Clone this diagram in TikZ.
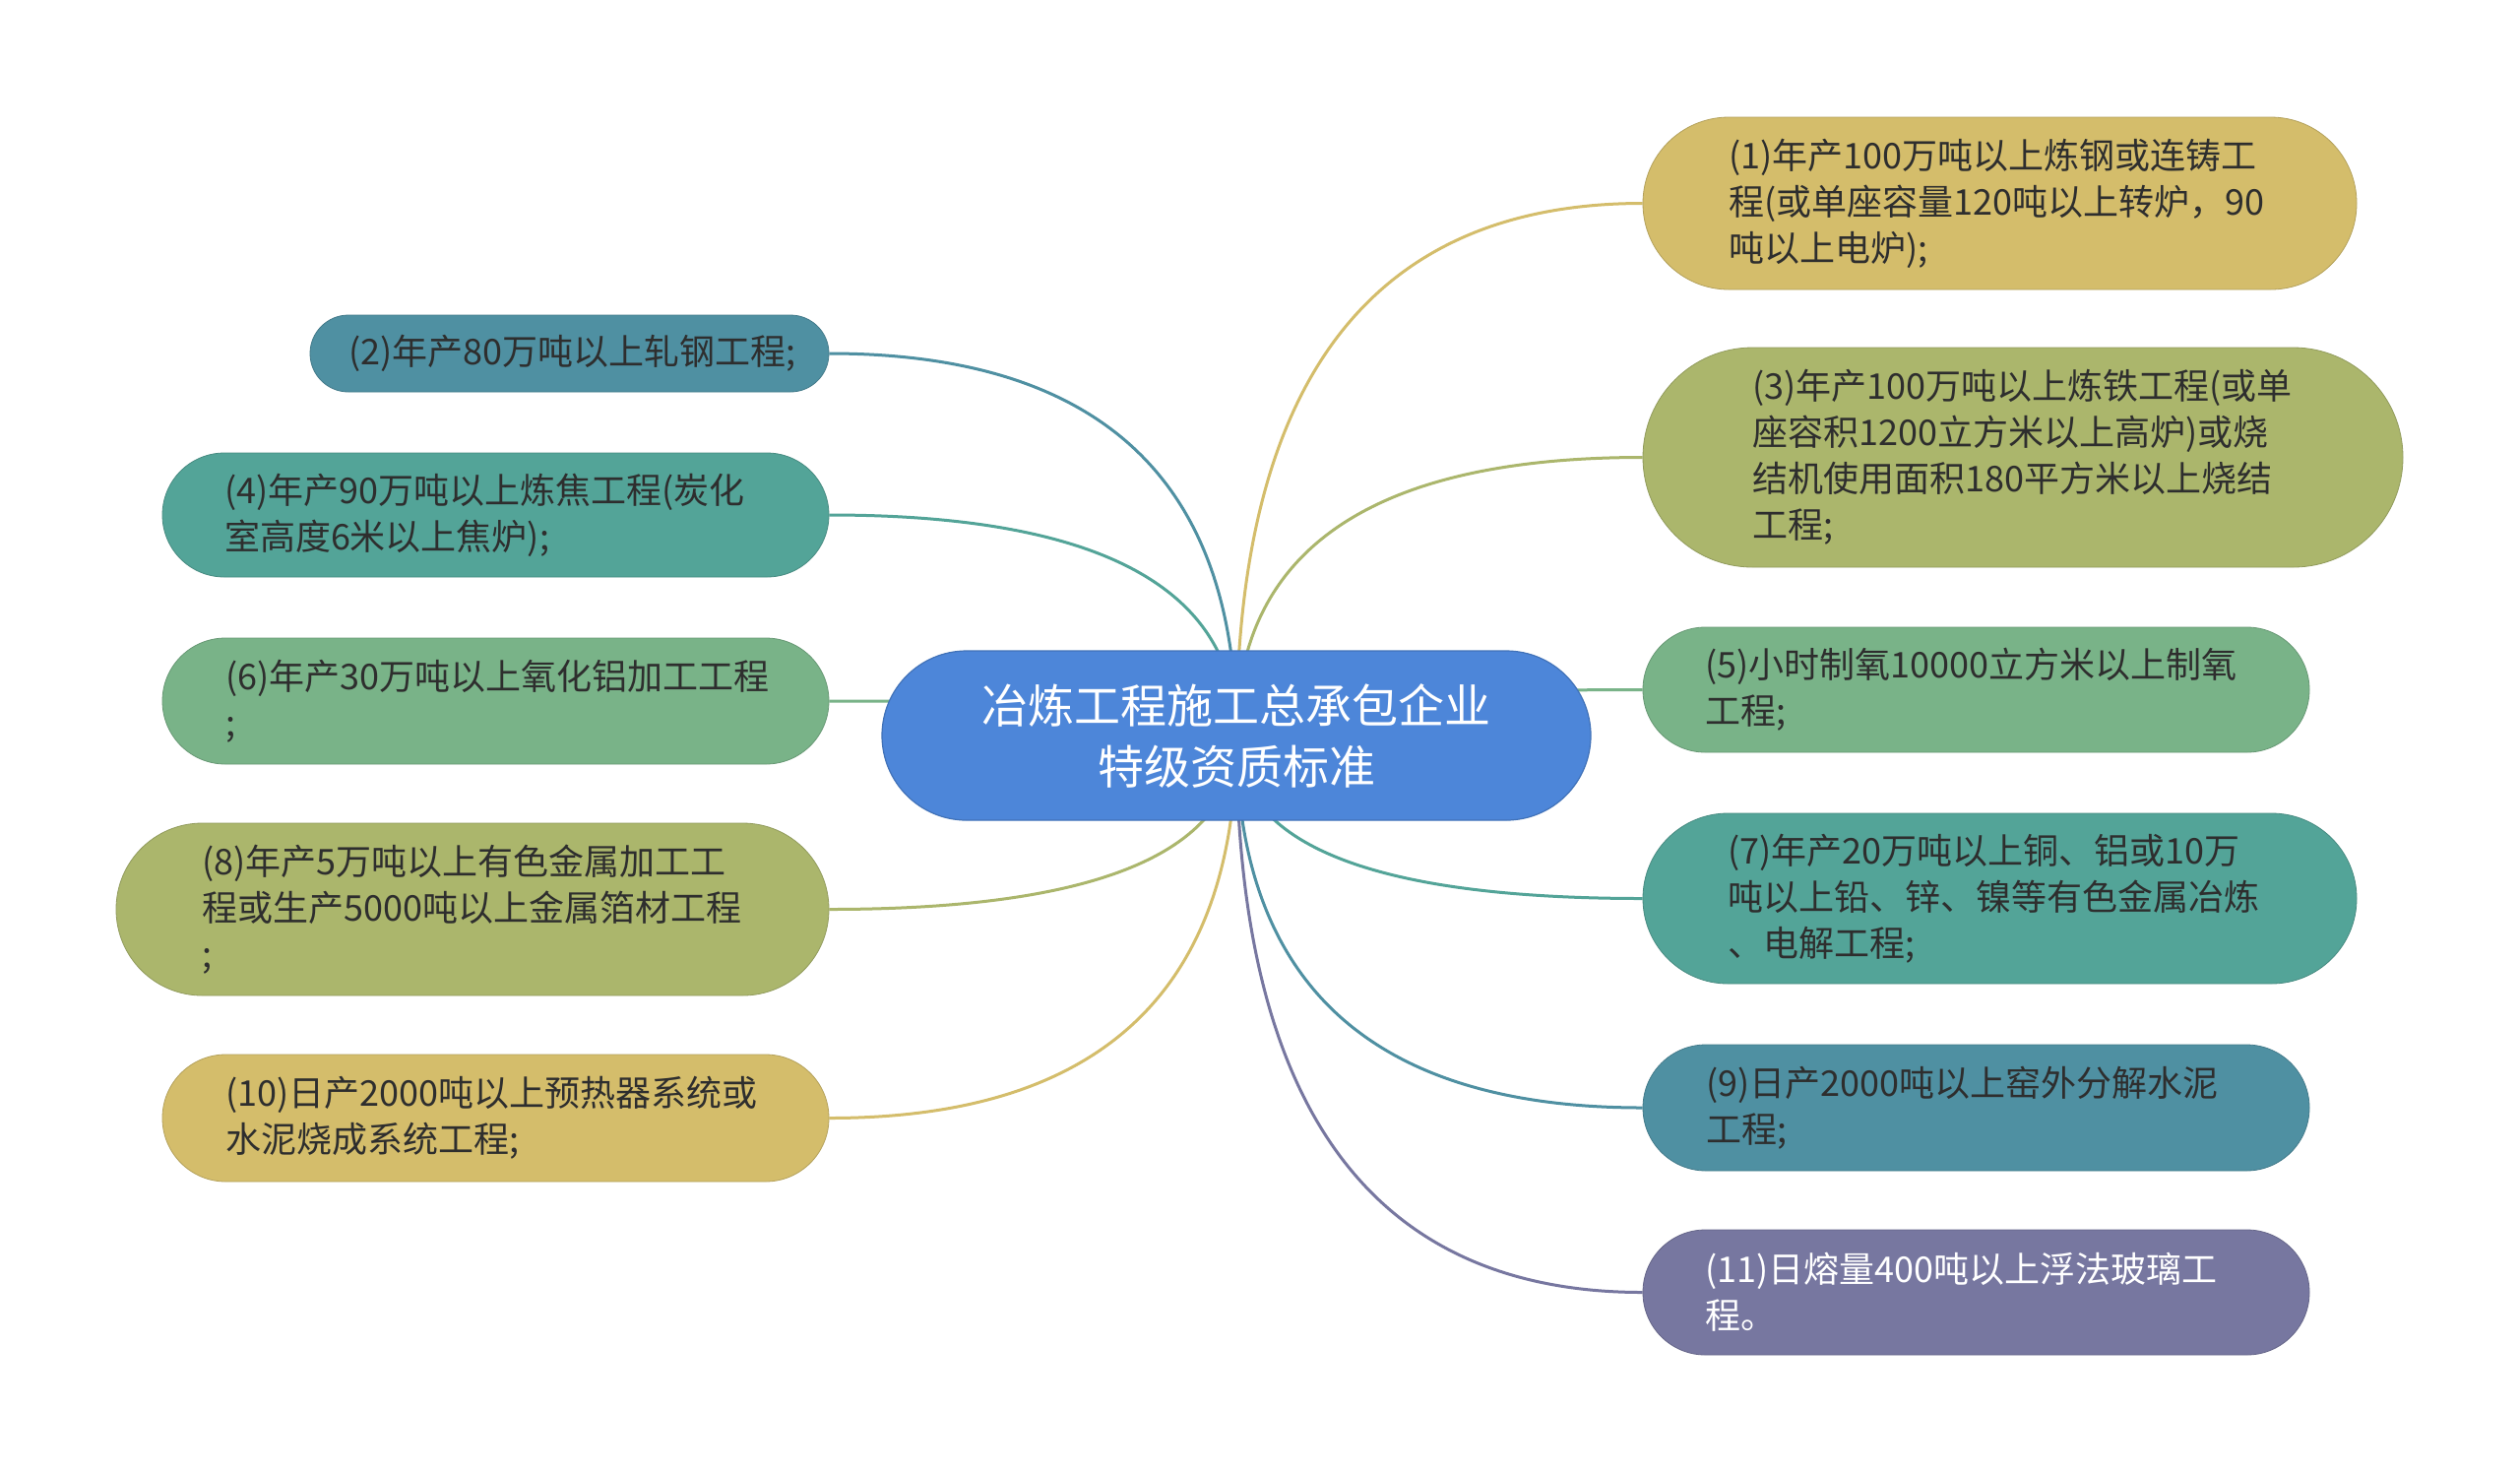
\documentclass[tikz,border=0pt]{standalone}
\usepackage{fontspec}
\newfontfamily\cjk{Noto Sans CJK SC}
\usetikzlibrary{calc,backgrounds}
\definecolor{cgold}{HTML}{D4BD6B}
\definecolor{colive}{HTML}{ABB66C}
\definecolor{cblue}{HTML}{4F90A2}
\definecolor{cteal}{HTML}{53A498}
\definecolor{cgreen}{HTML}{79B388}
\definecolor{cpurple}{HTML}{7777A0}
\definecolor{ccenter}{HTML}{4D86D9}
\definecolor{ctext}{HTML}{2E2E2E}
\newcommand\mmlink[3]{\draw[link,#3] (ctr.center) .. controls ($(ctr.center)!0.667!(ctr.center |- #1.#2)$) and ($(#1.#2)!0.667!(ctr.center |- #1.#2)$) .. (#1.#2);}
\begin{document}
\begin{tikzpicture}[x=0.5pt,y=-0.5pt,
  leaf/.style={font=\cjk\fontsize{18pt}{23.5pt}\selectfont, text=ctext, align=left, inner sep=0pt},
  link/.style={line width=1.5pt},
]
\useasboundingbox (0,0) rectangle (2560,1496);
% center
\node[font=\cjk\fontsize{23.5pt}{31pt}\selectfont, text=white, align=center, fill=ccenter, draw=ccenter!85!black, line width=0.6pt,
  minimum width=360pt, minimum height=86pt, rounded corners=43pt, inner sep=0pt] (ctr) at (1256,747)
  {冶炼工程施工总承包企业\\特级资质标准};
% right side
\node[leaf, fill=cgold, draw=cgold!85!black, minimum width=362.5pt, minimum height=87.5pt, rounded corners=43.7pt, text width=275pt] (n1) at (2031.5,206.5)
  {(1)年产100万吨以上炼钢或连铸工\\程(或单座容量120吨以上转炉，90\\吨以上电炉);};
\node[leaf, fill=colive, draw=colive!85!black, minimum width=386pt, minimum height=111.5pt, rounded corners=55.7pt, text width=274.5pt] (n3) at (2055,464.5)
  {(3)年产100万吨以上炼铁工程(或单\\座容积1200立方米以上高炉)或烧\\结机使用面积180平方米以上烧结\\工程;};
\node[leaf, fill=cgreen, draw=cgreen!85!black, minimum width=338.5pt, minimum height=63.5pt, rounded corners=31.7pt, text width=275pt] (n5) at (2007.5,700.5)
  {(5)小时制氧10000立方米以上制氧\\工程;};
\node[leaf, fill=cteal, draw=cteal!85!black, minimum width=362.5pt, minimum height=86.5pt, rounded corners=43.2pt, text width=276pt] (n7) at (2031.5,912.5)
  {(7)年产20万吨以上铜、铝或10万\\吨以上铅、锌、镍等有色金属冶炼\\、电解工程;};
\node[leaf, fill=cblue, draw=cblue!85!black, minimum width=338.5pt, minimum height=64pt, rounded corners=32pt, text width=274.5pt] (n9) at (2007.5,1125)
  {(9)日产2000吨以上窑外分解水泥\\工程;};
\node[leaf, text=white, fill=cpurple, draw=cpurple!85!black, minimum width=338.5pt, minimum height=63.5pt, rounded corners=31.7pt, text width=275pt] (n11) at (2007.5,1312.5)
  {(11)日熔量400吨以上浮法玻璃工\\程。};
% left side
\node[leaf, fill=cblue, draw=cblue!85!black, minimum width=263.5pt, minimum height=39pt, rounded corners=19.5pt, text width=224.5pt, align=center] (n2) at (578.5,359)
  {(2)年产80万吨以上轧钢工程;};
\node[leaf, fill=cteal, draw=cteal!85!black, minimum width=338.5pt, minimum height=63pt, rounded corners=31.5pt, text width=275.5pt] (n4) at (503.5,523)
  {(4)年产90万吨以上炼焦工程(炭化\\室高度6米以上焦炉);};
\node[leaf, fill=cgreen, draw=cgreen!85!black, minimum width=338.5pt, minimum height=64pt, rounded corners=32pt, text width=274.5pt] (n6) at (503.5,712)
  {(6)年产30万吨以上氧化铝加工工程\\;};
\node[leaf, fill=colive, draw=colive!85!black, minimum width=362pt, minimum height=87.5pt, rounded corners=43.7pt, text width=274.5pt] (n8) at (480,923.5)
  {(8)年产5万吨以上有色金属加工工\\程或生产5000吨以上金属箔材工程\\;};
\node[leaf, fill=cgold, draw=cgold!85!black, minimum width=338.5pt, minimum height=64.5pt, rounded corners=32.2pt, text width=274pt] (n10) at (503.5,1135.5)
  {(10)日产2000吨以上预热器系统或\\水泥烧成系统工程;};
\begin{pgfonlayer}{background}
\fill[white] (0,0) rectangle (2560,1496);
\mmlink{n1}{west}{cgold}
\mmlink{n3}{west}{colive}
\mmlink{n5}{west}{cgreen}
\mmlink{n7}{west}{cteal}
\mmlink{n9}{west}{cblue}
\mmlink{n11}{west}{cpurple}
\mmlink{n2}{east}{cblue}
\mmlink{n4}{east}{cteal}
\mmlink{n6}{east}{cgreen}
\mmlink{n8}{east}{colive}
\mmlink{n10}{east}{cgold}
\end{pgfonlayer}
\end{tikzpicture}
\end{document}
